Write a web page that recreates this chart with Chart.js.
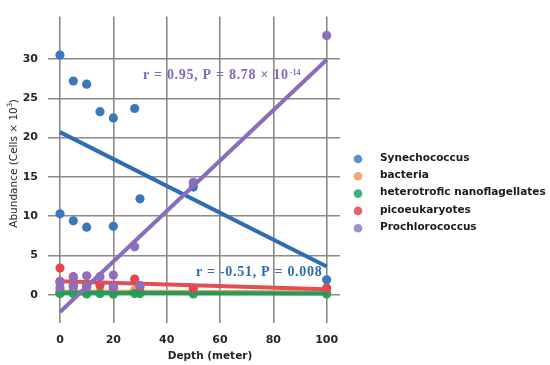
<!DOCTYPE html>
<html>
<head>
<meta charset="utf-8">
<script src="https://cdn.jsdelivr.net/npm/chart.js@4.4.1/dist/chart.umd.min.js"></script>
<style>
  html, body { margin: 0; padding: 0; background: #fff; }
  #wrap { width: 550px; height: 365px; }
</style>
</head>
<body>
<div id="wrap"><canvas id="chart" width="550" height="365"></canvas></div>
<script>
// sample depths (meter), one entry per sample
const depth = [0, 0, 5, 5, 10, 10, 15, 20, 20, 28, 30, 50, 100];

// abundance (cells x 10^3) per group, same order as depth
const synechococcus   = [30.5, 10.3, 27.2, 9.4, 26.8, 8.6, 23.3, 22.5, 8.7, 23.7, 12.2, 13.7, 1.9];
const bacteria        = [0.5, 0.4, 0.6, 0.4, 0.4, 0.4, 0.5, 0.4, 0.3, 0.6, 0.4, 0.3, 0.3];
const nanoflagellates = [0.2, 0.15, 0.2, 0.15, 0.15, 0.1, 0.15, 0.1, 0.1, 0.15, 0.15, 0.1, 0.1];
const picoeukaryotes  = [3.4, 1.7, 2.3, 1.2, 1.3, 1.0, 1.2, 1.1, 0.9, 2.0, 1.0, 0.8, 0.85];
const prochlorococcus = [1.6, 0.9, 2.2, 1.0, 2.4, 1.0, 2.3, 2.5, 1.0, 6.1, 1.2, 14.3, 33.0];

// regression line values at the two ends of the depth range
const fitDepth = [0, 100];
const fitSynechococcus   = [20.7, 3.6];
const fitBacteria        = [0.4, 0.3];
const fitNanoflagellates = [0.25, 0.15];
const fitPicoeukaryotes  = [1.7, 0.7];
const fitProchlorococcus = [-2.2, 29.9];

const xTicks = [0, 20, 40, 60, 80, 100];
const yTicks = [0, 5, 10, 15, 20, 25, 30];

const groups = [
  { label: 'Synechococcus', values: synechococcus, fit: fitSynechococcus, point: '#3a77bd', line: '#2f6cb3', key: '#5a8fd0' },
  { label: 'bacteria', values: bacteria, fit: fitBacteria, point: '#f29a66', line: '#f29a66', key: '#f5a47c' },
  { label: 'heterotrofic nanoflagellates', values: nanoflagellates, fit: fitNanoflagellates, point: '#26a35c', line: '#1f9f55', key: '#3fb47a' },
  { label: 'picoeukaryotes', values: picoeukaryotes, fit: fitPicoeukaryotes, point: '#e1464f', line: '#e24d56', key: '#e8646c' },
  { label: 'Prochlorococcus', values: prochlorococcus, fit: fitProchlorococcus, point: '#8d6fc0', line: '#8a6cbe', key: '#a08dd2' }
];

const toPoints = (xs, ys) => xs.map((x, i) => ({ x: x, y: ys[i] }));

// seaborn draws scatter then fit for each group; first chart.js dataset ends on top, so count order down
const datasets = [];
let order = 20;
groups.forEach(g => {
  datasets.push({
    type: 'scatter',
    label: g.label,
    data: toPoints(depth, g.values),
    backgroundColor: g.point,
    borderWidth: 0,
    pointRadius: 4.6,
    order: order--
  });
  datasets.push({
    type: 'line',
    label: g.label + ' fit',
    data: toPoints(fitDepth, g.fit),
    borderColor: g.line,
    borderWidth: 4,
    pointRadius: 0,
    fill: false,
    order: order--
  });
});

const notes = [
  { text: 'r = 0.95, P = 8.78 \u00d7 10', sup: '-14', x: 31.1, y: 27.9, color: '#8466ba' },
  { text: 'r = -0.51, P = 0.008', sup: '', x: 51.0, y: 2.8, color: '#2f6cb3' }
];

const extras = {
  id: 'extras',
  afterDatasetsDraw(chart) {
    const ctx = chart.ctx;
    const xs = chart.scales.x, ys = chart.scales.y;
    ctx.save();

    // r / P annotations
    notes.forEach(n => {
      const px = xs.getPixelForValue(n.x);
      const py = ys.getPixelForValue(n.y);
      ctx.fillStyle = n.color;
      ctx.font = 'bold 14px "Liberation Serif"';
      ctx.letterSpacing = '0.7px';
      ctx.textAlign = 'left';
      ctx.textBaseline = 'middle';
      ctx.fillText(n.text, px, py);
      if (n.sup) {
        const w = ctx.measureText(n.text).width;
        ctx.font = 'bold 8px "Liberation Serif"';
        ctx.letterSpacing = '0px';
        ctx.fillText(n.sup, px + w + 1, py - 3);
      }
    });
    ctx.letterSpacing = '0px';

    // legend
    ctx.textAlign = 'left';
    ctx.textBaseline = 'middle';
    ctx.font = 'bold 10.5px "DejaVu Sans"';
    groups.forEach((g, i) => {
      const y = 159 + i * 17.3;
      ctx.fillStyle = g.key;
      ctx.beginPath();
      ctx.arc(358, y, 4.3, 0, Math.PI * 2);
      ctx.fill();
      ctx.fillStyle = '#1a1a1a';
      ctx.fillText(g.label, 380, y - 1);
    });

    // axis titles
    ctx.fillStyle = '#262626';
    ctx.font = 'bold 10.5px "DejaVu Sans"';
    ctx.textAlign = 'center';
    ctx.textBaseline = 'middle';
    ctx.fillText('Depth (meter)', 210, 356);

    ctx.translate(14, 163);
    ctx.rotate(-Math.PI / 2);
    ctx.font = '10.5px "DejaVu Sans"';
    const main = 'Abundance (Cells \u00d7 10';
    const w = ctx.measureText(main).width;
    const start = -(w + 9) / 2;
    ctx.textAlign = 'left';
    ctx.fillText(main, start, 0);
    ctx.font = '7px "DejaVu Sans"';
    ctx.fillText('3', start + w, -4);
    ctx.font = '10.5px "DejaVu Sans"';
    ctx.fillText(')', start + w + 4, 0);
    ctx.restore();
  }
};

new Chart(document.getElementById('chart'), {
  type: 'scatter',
  data: { datasets: datasets },
  options: {
    responsive: false,
    animation: false,
    layout: { padding: { top: 0, right: 210, left: 0, bottom: 0 } },
    plugins: { legend: { display: false }, tooltip: { enabled: false } },
    scales: {
      x: {
        type: 'linear',
        min: -4.5,
        max: 105,
        afterBuildTicks: s => { s.ticks = xTicks.map(v => ({ value: v })); },
        afterFit: s => { s.height = 42; },
        border: { display: false },
        grid: { color: '#8a8a8a', lineWidth: 1.6, drawTicks: false },
        ticks: { padding: 11, color: '#262626', font: { family: 'DejaVu Sans', size: 11, weight: 'bold' } }
      },
      y: {
        type: 'linear',
        min: -3.6,
        max: 35.4,
        afterBuildTicks: s => { s.ticks = yTicks.map(v => ({ value: v })); },
        afterFit: s => { s.width = 48; },
        border: { display: false },
        grid: { color: '#8a8a8a', lineWidth: 1.6, drawTicks: false },
        ticks: { padding: 10, color: '#262626', font: { family: 'DejaVu Sans', size: 11, weight: 'bold' } }
      }
    }
  },
  plugins: [extras]
});
</script>
</body>
</html>
